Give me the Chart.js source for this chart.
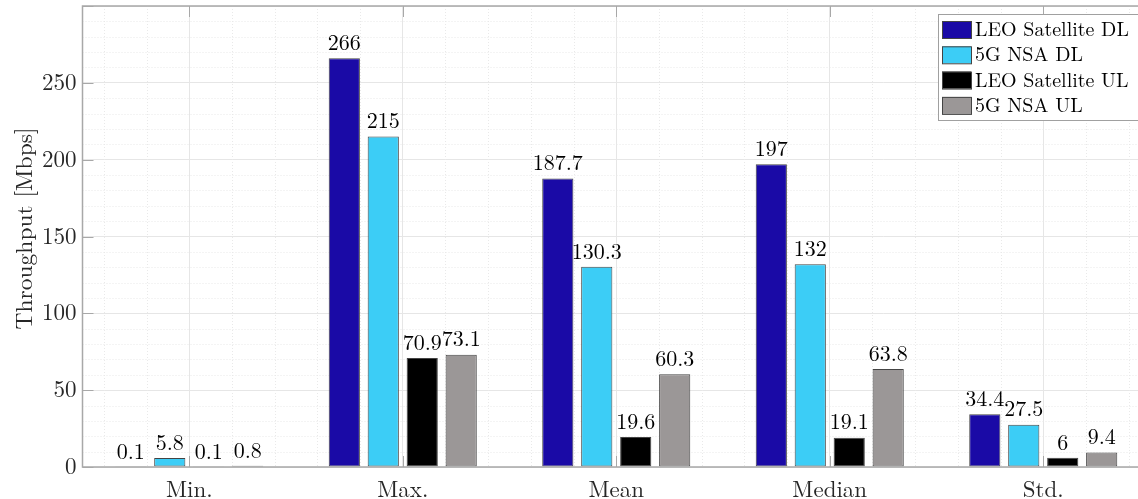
<!DOCTYPE html>
<html>
<head>
<meta charset="utf-8">
<script src="https://cdn.jsdelivr.net/npm/chart.js@4.4.0/dist/chart.umd.min.js"></script>
<style>
  html, body { margin: 0; padding: 0; background: #fff; overflow: hidden; }
  #wrap { width: 1138px; height: 499px; overflow: hidden; }
</style>
</head>
<body>
<div id="wrap"><canvas id="chart1" width="1152" height="499"></canvas></div>
<script>
const categories = ['Min.', 'Max.', 'Mean', 'Median', 'Std.'];
const leoDL = [0.1, 266, 187.7, 197, 34.4];
const nsaDL = [5.8, 215, 130.3, 132, 27.5];
const leoUL = [0.1, 70.9, 19.6, 19.1, 6];
const nsaUL = [0.8, 73.1, 60.3, 63.8, 9.4];
const seriesNames = ['LEO Satellite DL', '5G NSA DL', 'LEO Satellite UL', '5G NSA UL'];
const seriesColors = ['#1a0aa6', '#3ccdf6', '#000000', '#9b9797'];
const yTitle = 'Throughput [Mbps]';

const serif = "'Latin Modern Roman', 'Liberation Serif', serif";
const axisColor = '#a8a8a8';

// minor grid, axis box, inward ticks, value labels, y title and the legend
const matlabLook = {
    id: 'matlabLook',
    beforeDatasetsDraw(chart) {
        const { ctx, chartArea: a, scales: { x, y } } = chart;
        ctx.save();
        ctx.strokeStyle = '#e9e9e9';
        ctx.lineWidth = 1;
        ctx.setLineDash([1, 2]);
        for (let v = 10; v < 300; v += 10) {
            if (v % 50 === 0) continue;
            const py = Math.round(y.getPixelForValue(v)) + 0.5;
            ctx.beginPath(); ctx.moveTo(a.left, py); ctx.lineTo(a.right, py); ctx.stroke();
        }
        const step = x.getPixelForValue(1) - x.getPixelForValue(0);
        for (let i = -0.4; i < categories.length - 0.5; i += 0.2) {
            if (Math.abs(i - Math.round(i)) < 0.01) continue;
            const px = Math.round(x.getPixelForValue(0) + i * step) + 0.5;
            ctx.beginPath(); ctx.moveTo(px, a.top); ctx.lineTo(px, a.bottom); ctx.stroke();
        }
        ctx.restore();
    },
    afterDatasetsDraw(chart) {
        const { ctx, chartArea: a, scales: { x, y } } = chart;
        ctx.save();
        // value labels
        ctx.fillStyle = '#000';
        ctx.font = '22px ' + serif;
        ctx.textAlign = 'center';
        ctx.textBaseline = 'bottom';
        chart.data.datasets.forEach((ds, di) => {
            chart.getDatasetMeta(di).data.forEach((bar, i) => {
                ctx.fillText(String(ds.data[i]), bar.x, bar.y - 4);
            });
        });
        // axis box
        ctx.strokeStyle = axisColor;
        ctx.lineWidth = 1.5;
        ctx.beginPath();
        ctx.moveTo(a.right, a.top); ctx.lineTo(a.left, a.top);
        ctx.lineTo(a.left, a.bottom); ctx.lineTo(a.right, a.bottom);
        ctx.stroke();
        // inward ticks
        ctx.lineWidth = 1;
        for (let v = 0; v <= 300; v += 50) {
            const py = Math.round(y.getPixelForValue(v)) + 0.5;
            ctx.beginPath(); ctx.moveTo(a.left, py); ctx.lineTo(a.left + 11, py); ctx.stroke();
            ctx.beginPath(); ctx.moveTo(a.right, py); ctx.lineTo(a.right - 11, py); ctx.stroke();
        }
        categories.forEach((c, i) => {
            const px = Math.round(x.getPixelForValue(i)) + 0.5;
            ctx.beginPath(); ctx.moveTo(px, a.bottom); ctx.lineTo(px, a.bottom - 11); ctx.stroke();
            ctx.beginPath(); ctx.moveTo(px, a.top); ctx.lineTo(px, a.top + 11); ctx.stroke();
        });
        ctx.restore();
    },
    afterDraw(chart) {
        const { ctx, chartArea: a } = chart;
        ctx.save();
        // y axis title
        ctx.translate(25, (a.top + a.bottom) / 2 - 8);
        ctx.rotate(-Math.PI / 2);
        ctx.font = '23.5px ' + serif;
        ctx.fillStyle = '#262626';
        ctx.textAlign = 'center';
        ctx.textBaseline = 'middle';
        ctx.fillText(yTitle, 0, 0);
        ctx.restore();

        // legend
        const rowH = 25.3;
        const boxW = 202, boxH = 106;
        const bx = a.right - 10 - boxW, by = a.top + 8;
        ctx.save();
        ctx.fillStyle = '#fff';
        ctx.fillRect(bx, by, boxW, boxH);
        ctx.strokeStyle = '#a0a0a0';
        ctx.lineWidth = 1;
        ctx.strokeRect(bx + 0.5, by + 0.5, boxW, boxH);
        ctx.font = '20px ' + serif;
        ctx.textBaseline = 'middle';
        ctx.textAlign = 'left';
        chart.data.datasets.forEach((ds, i) => {
            const cy = by + 15 + i * rowH;
            ctx.fillStyle = ds.backgroundColor;
            ctx.fillRect(bx + 4, cy - 8, 29, 17);
            ctx.strokeStyle = '#444';
            ctx.strokeRect(bx + 4.5, cy - 7.5, 29, 17);
            ctx.fillStyle = '#000';
            ctx.fillText(ds.label, bx + 37, cy + 1);
        });
        ctx.restore();
    }
};

const cfg1 = {
    type: 'bar',
    data: {
        labels: categories,
        datasets: [leoDL, nsaDL, leoUL, nsaUL].map((d, i) => ({
            label: seriesNames[i],
            data: d,
            backgroundColor: seriesColors[i],
            borderColor: '#444',
            borderWidth: 1,
            borderSkipped: false,
            categoryPercentage: 0.73,
            barPercentage: 0.8,
        }))
    },
    options: {
        responsive: false,
        animation: false,
        layout: { padding: { top: 6, right: 2, left: 0, bottom: 0 } },
        plugins: { legend: { display: false }, tooltip: { enabled: false } },
        scales: {
            x: {
                grid: { offset: false, color: '#e6e6e6', drawTicks: false },
                border: { display: false },
                ticks: { color: '#262626', padding: 9, font: { family: serif, size: 23 } },
                afterFit(scale) {
                    scale.height = 32;
                    scale.paddingLeft = 0; scale.paddingRight = 0;
                },
            },
            y: {
                min: 0, max: 300,
                grid: { color: '#e6e6e6', drawTicks: false },
                border: { display: false },
                ticks: {
                    stepSize: 50, color: '#262626', padding: 6,
                    font: { family: serif, size: 23 },
                    callback: (v) => (v < 300 ? v : ''),
                },
                afterFit(scale) {
                    scale.width = 82.5;
                    scale.paddingTop = 0; scale.paddingBottom = 0;
                },
            }
        }
    },
    plugins: [matlabLook]
};

const chart1 = new Chart(document.getElementById('chart1').getContext('2d'), cfg1);
</script>
</body>
</html>
